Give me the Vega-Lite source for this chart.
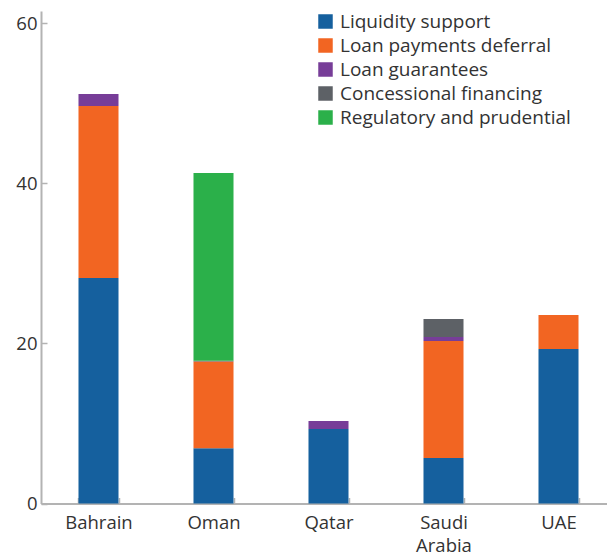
{
  "$schema": "https://vega.github.io/schema/vega-lite/v6.json",
  "autosize": {"type": "none"},
  "padding": {"left": 41, "top": 11, "right": 0, "bottom": 54},
  "width": 575,
  "height": 492.5,
  "background": "white",
  "config": {
    "view": {"stroke": null},
    "font": "Open Sans",
    "axis": {"labelFont": "Open Sans", "labelFontSize": 18.5, "labelColor": "#333333", "domainColor": "#b3b3b3", "domainWidth": 2, "tickColor": "#b3b3b3", "tickWidth": 1.5, "grid": false, "title": null},
    "legend": {"labelFont": "Open Sans", "labelFontSize": 19, "labelColor": "#333333", "labelLimit": 400}
  },
  "data": {
    "values": [
      {"country": "Bahrain", "type": "Liquidity support", "k": 1, "value": 28.2},
      {"country": "Bahrain", "type": "Loan payments deferral", "k": 2, "value": 21.5},
      {"country": "Bahrain", "type": "Loan guarantees", "k": 3, "value": 1.5},
      {"country": "Oman", "type": "Liquidity support", "k": 1, "value": 6.9},
      {"country": "Oman", "type": "Loan payments deferral", "k": 2, "value": 10.85},
      {"country": "Oman", "type": "Concessional financing", "k": 4, "value": 0.1},
      {"country": "Oman", "type": "Regulatory and prudential", "k": 5, "value": 23.45},
      {"country": "Qatar", "type": "Liquidity support", "k": 1, "value": 9.3},
      {"country": "Qatar", "type": "Loan guarantees", "k": 3, "value": 1.0},
      {"country": "Saudi Arabia", "type": "Liquidity support", "k": 1, "value": 5.7},
      {"country": "Saudi Arabia", "type": "Loan payments deferral", "k": 2, "value": 14.6},
      {"country": "Saudi Arabia", "type": "Loan guarantees", "k": 3, "value": 0.5},
      {"country": "Saudi Arabia", "type": "Concessional financing", "k": 4, "value": 2.26},
      {"country": "UAE", "type": "Liquidity support", "k": 1, "value": 19.3},
      {"country": "UAE", "type": "Loan payments deferral", "k": 2, "value": 4.26}
    ]
  },
  "mark": {"type": "bar"},
  "encoding": {
    "x": {
      "field": "country", "type": "nominal", "sort": null,
      "scale": {"paddingInner": 0.652, "paddingOuter": 0.326},
      "axis": {"labelAngle": 0, "tickSize": -6, "labelPadding": 16, "labelLineHeight": 23, "labelBaseline": "top",
               "labelExpr": "datum.label == 'Saudi Arabia' ? ['Saudi', 'Arabia'] : datum.label", "bandPosition": 0, "tickBand": "extent"}
    },
    "y": {
      "field": "value", "type": "quantitative", "stack": "zero",
      "scale": {"domain": [0, 61.56], "nice": false},
      "axis": {"values": [0, 20, 40, 60], "tickSize": -6, "labelPadding": 10}
    },
    "color": {
      "field": "type", "type": "nominal",
      "scale": {
        "domain": ["Liquidity support", "Loan payments deferral", "Loan guarantees", "Concessional financing", "Regulatory and prudential"],
        "range": ["#15609e", "#f26522", "#773d98", "#5d6166", "#2bb04a"]
      },
      "legend": {"title": null, "orient": "none", "legendX": 275, "legendY": 1, "symbolType": "square", "symbolSize": 210, "symbolStrokeWidth": 0, "labelOffset": 5, "rowPadding": 4, "padding": 0}
    },
    "order": {"field": "k", "type": "quantitative"}
  }
}
